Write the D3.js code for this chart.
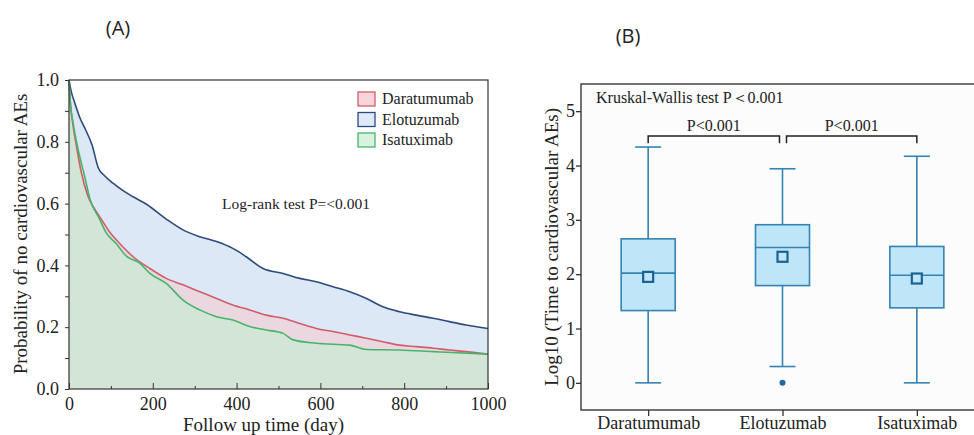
<!DOCTYPE html>
<html>
<head>
<meta charset="utf-8">
<script src="https://cdn.jsdelivr.net/npm/d3@7"></script>
<style>
  body { margin: 0; background: #fff; }
  svg { display: block; }
  text { font-family: "Liberation Serif", "Times New Roman", serif; fill: #222; }
</style>
</head>
<body>
<div id="chart"></div>
<script>
// Panel A: Kaplan-Meier style curves (day, probability)
const daraDays = [0, 3, 10, 18, 29, 45, 60, 73, 97, 121, 153, 193, 232, 272, 312, 352, 391, 431, 471, 511, 551, 590, 630, 670, 710, 749, 789, 829, 869, 908, 948, 1000];
const daraProb = [1.0, 0.93, 0.85, 0.784, 0.703, 0.625, 0.585, 0.558, 0.508, 0.471, 0.428, 0.39, 0.358, 0.337, 0.315, 0.293, 0.272, 0.256, 0.239, 0.229, 0.212, 0.196, 0.186, 0.175, 0.164, 0.153, 0.142, 0.137, 0.132, 0.126, 0.121, 0.113];

const eloDays = [0, 5, 14, 26, 41, 55, 70, 85, 105, 130, 153, 185, 232, 272, 312, 352, 391, 423, 463, 511, 551, 590, 630, 670, 710, 749, 789, 829, 869, 908, 948, 1000];
const eloProb = [1.0, 0.965, 0.925, 0.878, 0.835, 0.79, 0.715, 0.69, 0.666, 0.641, 0.622, 0.598, 0.55, 0.515, 0.493, 0.477, 0.455, 0.428, 0.39, 0.374, 0.358, 0.347, 0.331, 0.315, 0.293, 0.266, 0.25, 0.239, 0.229, 0.218, 0.207, 0.196];

const isaDays = [0, 3, 10, 21, 37, 50, 73, 89, 113, 137, 169, 193, 232, 272, 312, 352, 391, 431, 471, 511, 535, 590, 670, 710, 789, 869, 1000];
const isaProb = [1.0, 0.93, 0.86, 0.78, 0.69, 0.615, 0.55, 0.505, 0.47, 0.43, 0.407, 0.374, 0.342, 0.288, 0.256, 0.234, 0.223, 0.202, 0.191, 0.18, 0.159, 0.148, 0.142, 0.128, 0.126, 0.121, 0.113];

const kmNames = ["Daratumumab", "Elotuzumab", "Isatuximab"];
const kmTicksX = [0, 200, 400, 600, 800, 1000];
const kmTicksY = [0.0, 0.2, 0.4, 0.6, 0.8, 1.0];

// Panel B: box plot summary (log10 days)
const drugs = ["Daratumumab", "Elotuzumab", "Isatuximab"];
const whiskerLow = [0, 0.30, 0];
const q1 = [1.33, 1.79, 1.38];
const median = [2.02, 2.49, 1.98];
const q3 = [2.65, 2.91, 2.51];
const whiskerHigh = [4.34, 3.94, 4.17];
const means = [1.95, 2.32, 1.92];
const outliers = [[], [0], []];
const boxTicksY = [0, 1, 2, 3, 4, 5];

const W = 974, H = 435;
const svg = d3.select("#chart").append("svg").attr("width", W).attr("height", H);

// ---------- Panel A ----------
const A = { left: 69, right: 488, top: 80, bottom: 389 };
const xA = d3.scaleLinear().domain([0, 1000]).range([A.left, A.right]);
const yA = d3.scaleLinear().domain([0, 1]).range([A.bottom, A.top]);

const series = [
  { name: "Elotuzumab", days: eloDays, prob: eloProb, line: "#2d4b7a", fill: "#dce8f6" },
  { name: "Daratumumab", days: daraDays, prob: daraProb, line: "#d25c68", fill: "#ead7e0" },
  { name: "Isatuximab", days: isaDays, prob: isaProb, line: "#45b56b", fill: "#d3e5d6" }
];

const gA = svg.append("g");
const area = d3.area().curve(d3.curveMonotoneX).x(d => xA(d[0])).y0(yA(0)).y1(d => yA(d[1]));
const line = d3.line().curve(d3.curveMonotoneX).x(d => xA(d[0])).y(d => yA(d[1]));

series.forEach(s => {
  const pts = s.days.map((d, i) => [d, s.prob[i]]);
  gA.append("path").attr("d", area(pts)).attr("fill", s.fill);
});
series.forEach(s => {
  const pts = s.days.map((d, i) => [d, s.prob[i]]);
  gA.append("path").attr("d", line(pts)).attr("fill", "none")
    .attr("stroke", s.line).attr("stroke-width", 1.6);
});

// frame
gA.append("rect").attr("x", A.left).attr("y", A.top)
  .attr("width", A.right - A.left).attr("height", A.bottom - A.top)
  .attr("fill", "none").attr("stroke", "#333").attr("stroke-width", 1.2);

// axes
const axA = gA.append("g").attr("transform", `translate(0,${A.bottom})`)
  .call(d3.axisBottom(xA).tickValues(d3.range(0, 1001, 100)).tickSize(-5)
    .tickFormat(d => kmTicksX.includes(d) ? d : ""));
axA.select(".domain").remove();
axA.selectAll(".tick line").attr("stroke", "#333").attr("y2", d => kmTicksX.includes(d) ? -6 : -3);
axA.selectAll(".tick text").attr("y", 8)
  .style("font-size", "18px").style("font-family", "Liberation Serif").attr("fill", "#222");

const ayA = gA.append("g").attr("transform", `translate(${A.left},0)`)
  .call(d3.axisLeft(yA).tickValues(d3.range(0, 1.01, 0.1)).tickSize(4)
    .tickFormat(d => kmTicksY.some(t => Math.abs(t - d) < 1e-6) ? d3.format(".1f")(d) : ""));
ayA.select(".domain").remove();
ayA.selectAll(".tick line").attr("stroke", "#333");
ayA.selectAll(".tick text").attr("x", -10)
  .style("font-size", "18px").style("font-family", "Liberation Serif").attr("fill", "#222");

gA.append("text").attr("x", xA(500) - 15).attr("y", 431).attr("text-anchor", "middle")
  .style("font-size", "19px").text("Follow up time (day)");
gA.append("text").attr("transform", "translate(27,234) rotate(-90)").attr("text-anchor", "middle")
  .style("font-size", "19px").text("Probability of no cardiovascular AEs");
gA.append("text").attr("x", 296).attr("y", 209).attr("text-anchor", "middle")
  .style("font-size", "15.5px").text("Log-rank test P=<0.001");

// legend
const legColors = { Daratumumab: series[1], Elotuzumab: series[0], Isatuximab: series[2] };
const legFills = { Daratumumab: "#f8d5dc", Elotuzumab: "#dfeaf8", Isatuximab: "#d9f1df" };
kmNames.forEach((n, i) => {
  const y = 92 + i * 20.5;
  gA.append("rect").attr("x", 358).attr("y", y).attr("width", 17).attr("height", 14)
    .attr("fill", legFills[n]).attr("stroke", legColors[n].line).attr("stroke-width", 1.3);
  gA.append("text").attr("x", 382).attr("y", y + 12).style("font-size", "16px").text(n);
});

svg.append("text").attr("x", 118).attr("y", 35).attr("text-anchor", "middle")
  .style("font-family", "Open Sans, sans-serif").style("font-size", "20px").text("(A)");

// ---------- Panel B ----------
const B = { left: 581, right: 984, top: 84, bottom: 410 };
const xB = d3.scalePoint().domain(drugs).range([B.left, B.right]).padding(0.5);
const yB = d3.scaleLinear().domain([-0.5, 5.5]).range([B.bottom, B.top]);
const gB = svg.append("g");
const boxColor = "#3383b4", boxFill = "#bfe6f8";

gB.append("rect").attr("x", B.left).attr("y", B.top)
  .attr("width", B.right - B.left).attr("height", B.bottom - B.top)
  .attr("fill", "#fcfcfc").attr("stroke", "#444").attr("stroke-width", 1.5);

const ayB = gB.append("g").attr("transform", `translate(${B.left},0)`)
  .call(d3.axisLeft(yB).tickValues(boxTicksY).tickFormat(d3.format("d")).tickSize(5));
ayB.select(".domain").remove();
ayB.selectAll(".tick line").attr("stroke", "#333").attr("stroke-width", 1.3);
ayB.selectAll(".tick text").attr("x", -6)
  .style("font-size", "18px").style("font-family", "Liberation Serif").attr("fill", "#222");

const axB = gB.append("g").attr("transform", `translate(0,${B.bottom})`)
  .call(d3.axisBottom(xB).tickSize(6));
axB.select(".domain").remove();
axB.selectAll(".tick line").attr("stroke", "#333").attr("stroke-width", 1.3);
axB.selectAll(".tick text").attr("y", 6)
  .style("font-size", "18px").style("font-family", "Liberation Serif").attr("fill", "#222");

drugs.forEach((d, i) => {
  const cx = xB(d), bw = 54, cw = 26;
  const g = gB.append("g").attr("stroke", boxColor).attr("stroke-width", 1.6);
  g.append("line").attr("x1", cx).attr("x2", cx).attr("y1", yB(whiskerLow[i])).attr("y2", yB(q1[i]));
  g.append("line").attr("x1", cx).attr("x2", cx).attr("y1", yB(q3[i])).attr("y2", yB(whiskerHigh[i]));
  g.append("line").attr("x1", cx - cw / 2).attr("x2", cx + cw / 2).attr("y1", yB(whiskerLow[i])).attr("y2", yB(whiskerLow[i]));
  g.append("line").attr("x1", cx - cw / 2).attr("x2", cx + cw / 2).attr("y1", yB(whiskerHigh[i])).attr("y2", yB(whiskerHigh[i]));
  g.append("rect").attr("x", cx - bw / 2).attr("y", yB(q3[i])).attr("width", bw)
    .attr("height", yB(q1[i]) - yB(q3[i])).attr("fill", boxFill);
  g.append("line").attr("x1", cx - bw / 2).attr("x2", cx + bw / 2).attr("y1", yB(median[i])).attr("y2", yB(median[i]));
  g.append("rect").attr("x", cx - 5).attr("y", yB(means[i]) - 5).attr("width", 10).attr("height", 10)
    .attr("fill", boxFill).attr("stroke", "#1a6296").attr("stroke-width", 2.2);
  outliers[i].forEach(o => {
    gB.append("circle").attr("cx", cx).attr("cy", yB(o)).attr("r", 3).attr("fill", "#1f6aa0");
  });
});

// significance brackets
const brTop = yB(4.545), brLeg = yB(4.41);
const brackets = [[xB(drugs[0]), xB(drugs[1]) - 3], [xB(drugs[1]) + 4, xB(drugs[2])]];
brackets.forEach(([x1, x2]) => {
  gB.append("path").attr("d", `M${x1},${brLeg}V${brTop}H${x2}V${brLeg}`)
    .attr("fill", "none").attr("stroke", "#222").attr("stroke-width", 1.5);
  gB.append("text").attr("x", (x1 + x2) / 2).attr("y", brTop - 5).attr("text-anchor", "middle")
    .style("font-size", "16px").text("P<0.001");
});

gB.append("text").attr("x", 596).attr("y", 103).style("font-size", "16px").text("Kruskal-Wallis test P＜0.001");
gB.append("text").attr("transform", "translate(558,247) rotate(-90)").attr("text-anchor", "middle")
  .style("font-size", "19px").text("Log10 (Time to cardiovascular AEs)");

svg.append("text").attr("x", 628).attr("y", 43).attr("text-anchor", "middle")
  .style("font-family", "Open Sans, sans-serif").style("font-size", "20px").text("(B)");
</script>
</body>
</html>
